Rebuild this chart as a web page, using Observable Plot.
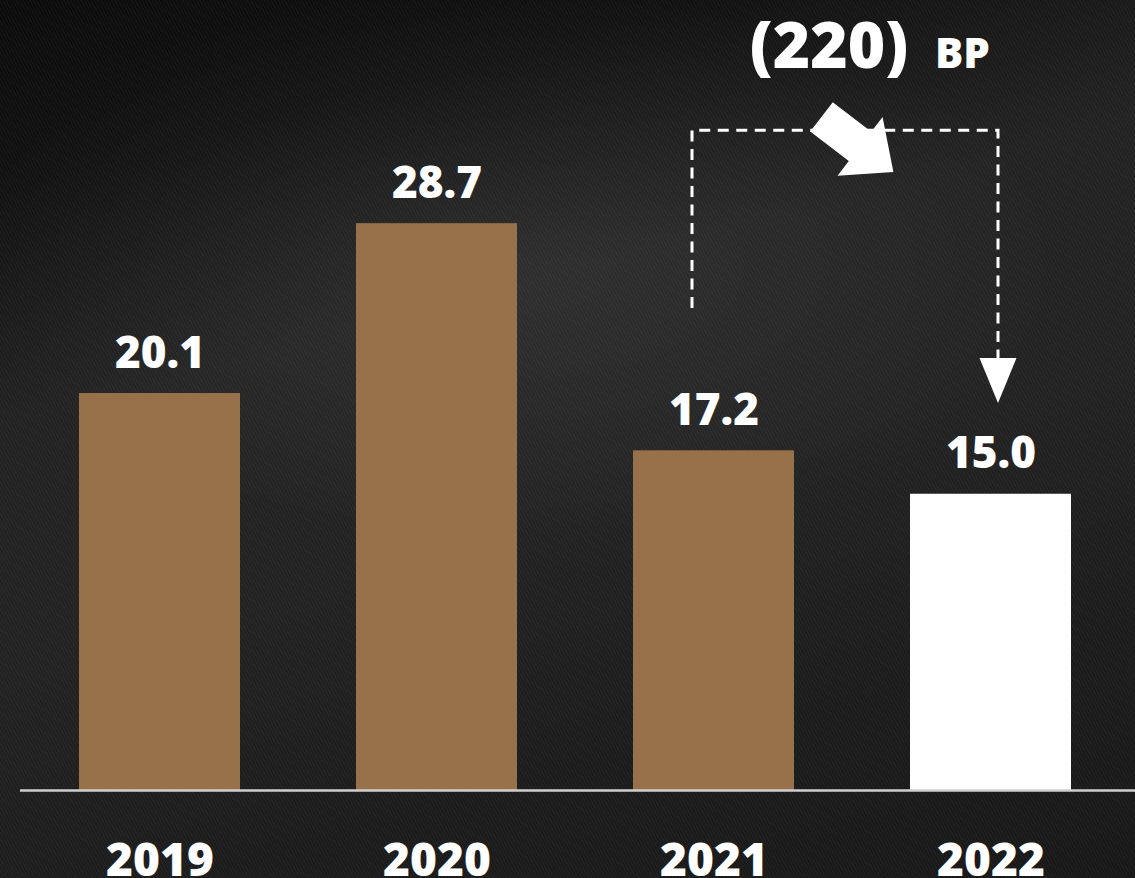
<!DOCTYPE html>
<html>
<head>
<meta charset="utf-8">
<script src="https://cdn.jsdelivr.net/npm/d3@7"></script>
<script src="https://cdn.jsdelivr.net/npm/@observablehq/plot@0.6"></script>
<style>
  html, body { margin: 0; padding: 0; overflow: hidden; }
  body {
    width: 1135px; height: 878px;
    background:
      repeating-linear-gradient(62deg, rgba(255,255,255,0.03) 0 1px, rgba(0,0,0,0) 1px 3px),
      radial-gradient(ellipse 70% 45% at 45% 30%, rgba(255,255,255,0.06), rgba(255,255,255,0) 70%),
      linear-gradient(165deg, #0c0c0c 0%, #121212 16%, #232323 36%, #232323 55%, #1d1d1d 75%, #181818 100%);
    font-family: "Open Sans", Lato, sans-serif;
  }
  #chart svg { display: block; }
</style>
</head>
<body>
<div id="chart"></div>
<script>
// ---- data ----
const years = ["2019", "2020", "2021", "2022"];
const values = [20.1, 28.7, 17.2, 15.0];
const highlightYear = "2022";

// ---- annotation ----
const changeLabel = "(220)";
const unitLabel = "BP";
const bracketFrom = "2021";
const bracketTo = "2022";
const bracketTop = 33.4;      // y value of bracket top
const bracketLeftEnd = 24.4;  // y value where left dashed leg ends
const bracketArrowTip = 19.6; // y value of arrow tip (right leg)
const annotationY = 36.6;     // baseline of "(220) BP"

const data = years.map((year, i) => ({year, value: values[i]}));

const barColor = "#977149";
const highlightColor = "#ffffff";

function annotation(index, scales) {
  const sx = scales.x, sy = scales.y;
  const bw = typeof sx.bandwidth === "function" ? sx.bandwidth() : (sx.bandwidth ?? 0);
  const cx = v => sx(v) + bw / 2;
  const xL = cx(bracketFrom) - 21.5;
  const xR = cx(bracketTo) + 7.5;
  const yT = sy(bracketTop);
  const yLE = sy(bracketLeftEnd);
  const yTip = sy(bracketArrowTip);
  const headLen = 45, headHalf = 18.5;
  const g = d3.create("svg:g");
  g.append("path")
    .attr("d", `M${xL},${yLE}V${yT}H${xR}V${yTip - headLen}`)
    .attr("fill", "none")
    .attr("stroke", "#ffffff")
    .attr("stroke-width", 3)
    .attr("stroke-dasharray", "11 7.5");
  g.append("path")
    .attr("d", `M${xR - headHalf},${yTip - headLen}L${xR + headHalf},${yTip - headLen}L${xR},${yTip}Z`)
    .attr("fill", "#ffffff");
  // block arrow pointing down-right
  const ox = cx(bracketFrom) + 108, oy = yT - 13.5;
  const ang = 37.5 * Math.PI / 180;
  const u = [Math.cos(ang), Math.sin(ang)], n = [-Math.sin(ang), Math.cos(ang)];
  const shaft = 48.6, head = 42, sw = 18.5, hw = 37;
  const P = (a, b) => [ox + u[0] * a + n[0] * b, oy + u[1] * a + n[1] * b];
  const pts = [P(0, -sw), P(shaft, -sw), P(shaft, -hw), P(shaft + head, 0), P(shaft, hw), P(shaft, sw), P(0, sw)];
  g.append("path")
    .attr("d", "M" + pts.map(p => p.join(",")).join("L") + "Z")
    .attr("fill", "#ffffff");
  return g.node();
}

const font = "'Open Sans', Lato, sans-serif";

const plot = Plot.plot({
  width: 1135,
  height: 878,
  marginTop: 0,
  marginBottom: 88,
  marginLeft: 20,
  marginRight: 0,
  x: {domain: years, paddingInner: 0.42, paddingOuter: 0.22, align: 0.475, axis: null},
  y: {domain: [0, 40], axis: null},
  style: {background: "transparent", color: "#ffffff", fontFamily: font},
  marks: [
    Plot.barY(data, {x: "year", y: "value", fill: d => d.year === highlightYear ? highlightColor : barColor}),
    Plot.ruleY([0], {stroke: "#cfcfcf", strokeWidth: 2.5}),
    Plot.text(data, {x: "year", y: "value", text: d => d.value.toFixed(1), lineAnchor: "bottom", dy: -26,
      fill: "#ffffff", fontSize: 44, fontWeight: 800, fontFamily: font}),
    Plot.text(data, {x: "year", y: 0, text: "year", lineAnchor: "bottom", dy: 85,
      fill: "#ffffff", fontSize: 46, fontWeight: 800, fontFamily: font}),
    Plot.text([changeLabel], {x: [bracketFrom], y: [annotationY], text: d => d, dx: 115, lineAnchor: "bottom",
      fill: "#ffffff", fontSize: 64, fontWeight: 800, fontFamily: font}),
    Plot.text([unitLabel], {x: [bracketTo], y: [annotationY], text: d => d, dx: -56, textAnchor: "start", lineAnchor: "bottom",
      fill: "#ffffff", fontSize: 42, fontWeight: 800, fontFamily: font}),
    annotation
  ]
});
document.getElementById("chart").appendChild(plot);
</script>
</body>
</html>
